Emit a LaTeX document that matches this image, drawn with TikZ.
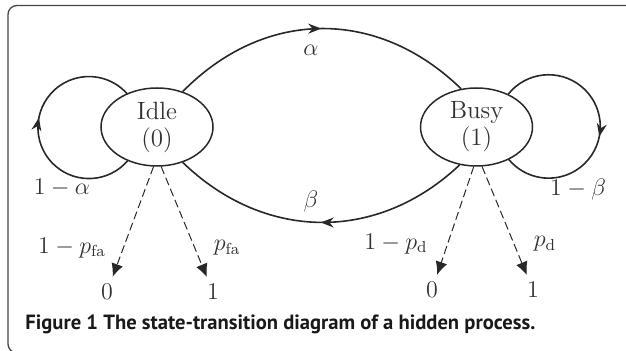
\documentclass[tikz,border=0pt]{standalone}
\usepackage{fontspec}
\newfontfamily\capfont{PT Sans}
\usetikzlibrary{shapes.geometric,arrows.meta,decorations.markings}

\definecolor{hpline}{RGB}{40,40,40}
\definecolor{hptext}{RGB}{50,50,50}
\definecolor{hpframe}{RGB}{70,70,70}

\begin{document}
\begin{tikzpicture}[
  x=0.5pt,
  y=-0.5pt,
  state/.style={draw=hpline, ellipse, line width=0.75pt, minimum width=56pt, minimum height=39pt, inner sep=0pt, align=center, font=\fontsize{12.5}{13.5}\selectfont, text=hptext},
  prob/.style={font=\fontsize{12}{13}\selectfont, text=hptext},
  trans/.style={draw=hpline, line width=0.8pt},
  midarrow/.style={postaction={decorate}, decoration={markings, mark=at position #1 with {\arrow{Stealth[length=6.5pt,width=5pt]}}}},
  midarrow/.default=0.5,
  observe/.style={draw=hpline, line width=0.5pt, dash pattern=on 4pt off 2pt, -{Latex[length=6.5pt,width=6pt]}},
  caption/.style={font=\capfont\bfseries\fontsize{10.3}{11}\selectfont, text=black!90, anchor=west, inner sep=0pt}
]

  \path[use as bounding box] (0,0) rectangle (626,351);

  % Figure frame
  \begin{scope}
    \clip (0,0) rectangle (626,351);
    \draw[hpframe, line width=0.65pt, rounded corners=4.5pt] (8,5.5) rectangle (700,353);
  \end{scope}

  % States
  \node[state] (idle) at (157,127) {Idle\\(0)};
  \node[state] (busy) at (476.5,127) {Busy\\(1)};

  % Transitions between the states
  \draw[trans, midarrow] (idle.54) .. controls (265,8) and (378,8) .. (busy.112);
  \draw[trans, midarrow] (busy.246) .. controls (378,242) and (265,242) .. (idle.306);
  \node[prob] (alpha) at (311,50) {$\alpha$};
  \node[prob] (beta) at (311,202) {$\beta$};

  % Self loops
  \draw[trans, midarrow=0.54] (idle.229) arc[start angle=-40.9, end angle=-319.1, radius=25.5pt];
  \draw[trans, midarrow=0.54] (busy.46) arc[start angle=141.2, end angle=-141.2, radius=25.85pt];
  \node[prob] (stayidle) at (62,188) {$1-\alpha$};
  \node[prob] (staybusy) at (578,190) {$1-\beta$};

  % Observations
  \node[prob] (idlezero) at (107,292) {0};
  \node[prob] (idleone) at (213,292) {1};
  \node[prob] (busyzero) at (432,290) {0};
  \node[prob] (busyone) at (533,290) {1};

  \draw[observe] (idle.265) -- (idlezero);
  \draw[observe] (idle.276) -- (idleone);
  \draw[observe] (busy.266) -- (busyzero);
  \draw[observe] (busy.278) -- (busyone);

  \node[prob] (pfazero) at (72,248) {$1-p_{\mathrm{fa}}$};
  \node[prob] (pfaone) at (227,248) {$p_{\mathrm{fa}}$};
  \node[prob] (pdzero) at (396,244) {$1-p_{\mathrm{d}}$};
  \node[prob] (pdone) at (545,244) {$p_{\mathrm{d}}$};

  % Caption
  \node[caption] (cap) at (25,324) {Figure 1 The state-transition diagram of a hidden process.};

\end{tikzpicture}
\end{document}
